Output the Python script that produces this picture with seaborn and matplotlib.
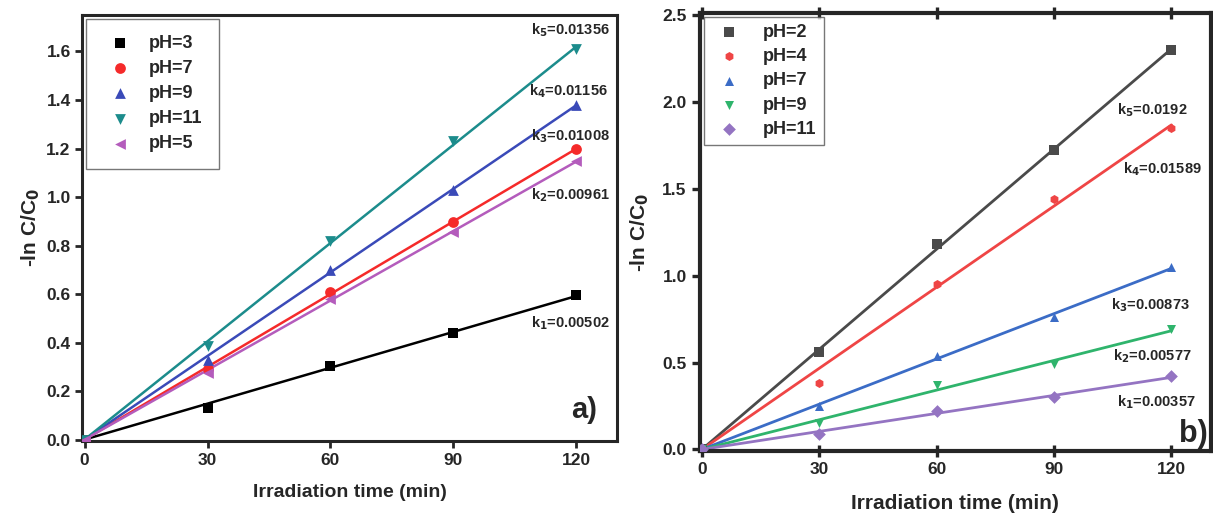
import numpy as np
import pandas as pd
import seaborn as sns
import matplotlib.pyplot as plt

# irradiation time (min)
time = [0, 30, 60, 90, 120]

# panel a
a_labels = ["pH=3", "pH=7", "pH=9", "pH=11", "pH=5"]
a_values = [
    [0, 0.13, 0.305, 0.44, 0.595],
    [0, 0.29, 0.61, 0.895, 1.20],
    [0, 0.33, 0.70, 1.03, 1.38],
    [0, 0.385, 0.82, 1.23, 1.61],
    [0, 0.275, 0.58, 0.855, 1.15],
]
a_k = ["5", "4", "3", "2", "1"]
a_k_text = ["0.01356", "0.01156", "0.01008", "0.00961", "0.00502"]

# panel b
b_labels = ["pH=2", "pH=4", "pH=7", "pH=9", "pH=11"]
b_values = [
    [0, 0.56, 1.18, 1.72, 2.30],
    [0, 0.38, 0.95, 1.44, 1.85],
    [0, 0.25, 0.54, 0.76, 1.05],
    [0, 0.15, 0.37, 0.49, 0.69],
    [0, 0.09, 0.22, 0.30, 0.42],
]
b_k = ["5", "4", "3", "2", "1"]
b_k_text = ["0.0192", "0.01589", "0.00873", "0.00577", "0.00357"]

A_COLORS = ["#000000", "#f52a2a", "#3a4ab8", "#1c8c8c", "#b45cbc"]
A_MARKERS = ["s", "o", "^", "v", "<"]
B_COLORS = ["#4a4a4a", "#ef4545", "#3b6cc6", "#2fb46c", "#9474c2"]
B_MARKERS = ["s", "h", "^", "v", "D"]

sns.set_style("ticks")
plt.rcParams["font.family"] = ["Liberation Sans", "DejaVu Sans"]
plt.rcParams["font.weight"] = "bold"


def fit_line(vals):
    x = np.array(time, dtype=float)
    y = np.array(vals, dtype=float)
    k = (x * y).sum() / (x * x).sum()
    return pd.DataFrame({"t": [time[0], time[-1]], "v": [k * time[0], k * time[-1]]})


def draw_panel(ax, labels, values, colors, markers, msize, lw, lab_size, ypad):
    for lab, vals, c, m in zip(labels, values, colors, markers):
        line = fit_line(vals)
        sns.lineplot(data=line, x="t", y="v", color=c, lw=lw, ax=ax, legend=False)
        df = pd.DataFrame({"t": time, "v": vals})
        sns.scatterplot(data=df, x="t", y="v", color=c, marker=m, s=msize,
                        edgecolor=c, linewidth=0, label=lab, ax=ax, zorder=3)
    ax.set_xticks([0, 30, 60, 90, 120])
    ax.set_xlabel("Irradiation time (min)", fontsize=lab_size, fontweight="bold",
                  labelpad=12)
    ax.set_ylabel("-ln C/C$_0$", fontsize=15, fontweight="bold", labelpad=ypad)
    ax.tick_params(width=2, length=5, labelsize=12.5)
    for lbl in ax.get_xticklabels() + ax.get_yticklabels():
        lbl.set_fontweight("bold")


fig = plt.figure(figsize=(12.13, 5.21), dpi=100)
ax1 = fig.add_axes([0.068, 0.154, 0.441, 0.817])
ax2 = fig.add_axes([0.577, 0.134, 0.421, 0.841])

# panel a
draw_panel(ax1, a_labels, a_values, A_COLORS, A_MARKERS, 60, 1.8, 14, 3)
ax1.set_xlim(-0.5, 130)
ax1.set_ylim(-0.005, 1.75)
ax1.set_yticks(np.arange(0, 1.61, 0.2))
ax1.yaxis.set_major_formatter(plt.FormatStrFormatter("%.1f"))
for sp in ax1.spines.values():
    sp.set_linewidth(2.2)
a_pos = [(109, 1.69), (108.5, 1.435), (109, 1.25), (109, 1.006), (109, 0.48)]
for (x, y), k, t in zip(a_pos, a_k, a_k_text):
    ax1.text(x, y, "k$_{%s}$=%s" % (k, t), fontsize=10.5, fontweight="bold",
             va="center", ha="left")
ax1.text(125, 0.12, "a)", fontsize=21, fontweight="bold", ha="right", va="center")
leg = ax1.legend(loc="upper left", fontsize=13, frameon=True, fancybox=False,
                 edgecolor="#555555", borderpad=0.9, handletextpad=0.6,
                 labelspacing=0.45, borderaxespad=0.2, markerscale=1.0)
leg.get_frame().set_linewidth(1.0)

# panel b
draw_panel(ax2, b_labels, b_values, B_COLORS, B_MARKERS, 42, 2.0, 15, 8)
ax2.set_xlim(-0.5, 130)
ax2.set_ylim(-0.01, 2.51)
ax2.set_yticks(np.arange(0, 2.51, 0.5))
ax2.yaxis.set_major_formatter(plt.FormatStrFormatter("%.1f"))
ax2.tick_params(axis="x", top=True, direction="inout", length=9, width=2.4)
ax2.tick_params(axis="y", length=6, width=2.4)
for sp in ax2.spines.values():
    sp.set_linewidth(3)
b_pos = [(106, 1.95), (107.5, 1.61), (104.5, 0.83), (105, 0.535), (106, 0.27)]
for (x, y), k, t in zip(b_pos, b_k, b_k_text):
    ax2.text(x, y, "k$_{%s}$=%s" % (k, t), fontsize=10.5, fontweight="bold",
             va="center", ha="left")
ax2.text(129.3, 0.09, "b)", fontsize=22, fontweight="bold", ha="right",
         va="center")
leg2 = ax2.legend(loc="upper left", fontsize=13, frameon=True, fancybox=False,
                  edgecolor="#555555", borderpad=0.4, handletextpad=0.9,
                  labelspacing=0.4, borderaxespad=0.2)
leg2.get_frame().set_linewidth(1.0)

fig.savefig("out.png", dpi=100)
